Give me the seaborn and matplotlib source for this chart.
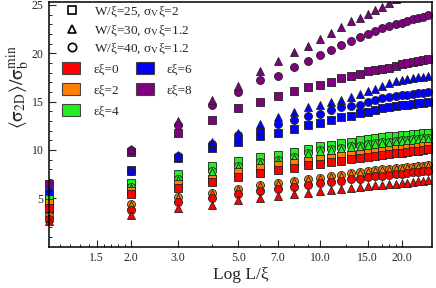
import matplotlib
matplotlib.use("Agg")
import matplotlib.pyplot as plt
import seaborn as sns
import numpy as np
import pandas as pd
from matplotlib.lines import Line2D
from matplotlib.patches import Patch, Rectangle
from matplotlib.ticker import FixedLocator, FixedFormatter, NullFormatter

# system size L/xi
L = list(range(1, 26))

# W/xi=25, sigma_V xi=2 (squares)
sq_e0 = [4.0, 5.4, 6.1, 6.7, 7.2, 7.6, 7.9, 8.15, 8.4, 8.6, 8.75, 8.9, 9.05, 9.2, 9.3, 9.4, 9.5, 9.55, 9.65, 9.7, 9.8, 9.85, 9.9, 10.0, 10.05]
sq_e2 = [4.5, 5.8, 6.45, 7.05, 7.7, 8.1, 8.4, 8.65, 8.9, 9.05, 9.2, 9.35, 9.45, 9.6, 9.7, 9.8, 9.9, 9.95, 10.05, 10.1, 10.2, 10.25, 10.3, 10.4, 10.45]
sq_e4 = [4.9, 6.6, 7.5, 8.3, 8.9, 9.3, 9.5, 9.8, 10.1, 10.4, 10.55, 10.7, 10.85, 11.0, 11.1, 11.2, 11.3, 11.4, 11.45, 11.5, 11.6, 11.65, 11.7, 11.75, 11.8]
sq_e6 = [5.6, 7.9, 9.2, 10.2, 10.8, 11.4, 11.8, 12.2, 12.6, 12.8, 13.1, 13.4, 13.5, 13.8, 13.9, 14.1, 14.3, 14.4, 14.5, 14.6, 14.7, 14.8, 14.85, 14.9, 15.0]
sq_e8 = [6.5, 9.8, 11.8, 13.1, 14.3, 15.0, 15.6, 16.1, 16.5, 16.7, 17.0, 17.4, 17.6, 17.9, 18.2, 18.3, 18.4, 18.5, 18.7, 18.9, 19.0, 19.1, 19.15, 19.3, 19.4]

# W/xi=30, sigma_V xi=1.2 (triangles)
tri_e0 = [2.7, 3.3, 4.05, 4.35, 4.8, 5.0, 5.2, 5.4, 5.6, 5.8, 5.9, 6.0, 6.1, 6.2, 6.25, 6.35, 6.4, 6.45, 6.5, 6.55, 6.6, 6.7, 6.75, 6.8, 6.85]
tri_e2 = [3.0, 4.3, 5.0, 5.5, 5.9, 6.3, 6.5, 6.7, 6.85, 7.0, 7.2, 7.3, 7.55, 7.6, 7.7, 7.85, 7.9, 7.95, 8.0, 8.05, 8.1, 8.15, 8.2, 8.25, 8.3]
tri_e4 = [3.4, 6.1, 6.9, 7.7, 8.2, 8.7, 8.85, 9.2, 9.55, 9.85, 10.0, 10.15, 10.3, 10.35, 10.5, 10.6, 10.7, 10.75, 10.85, 10.9, 10.95, 11.0, 11.05, 11.1, 11.15]
tri_e6 = [4.0, 7.8, 9.5, 10.8, 11.8, 12.7, 13.4, 13.9, 14.4, 14.6, 15.0, 15.2, 15.5, 15.8, 16.1, 16.3, 16.6, 16.9, 17.1, 17.2, 17.3, 17.4, 17.5, 17.55, 17.6]
tri_e8 = [4.8, 10.1, 13.0, 15.2, 16.6, 18.2, 19.2, 20.1, 20.7, 21.5, 22.1, 22.7, 23.3, 23.6, 24.1, 24.5, 24.8, 25.2, 25.6, 25.9, 26.2, 26.5, 26.8, 27.0, 27.3]

# W/xi=40, sigma_V xi=1.2 (circles)
cir_e0 = [2.9, 3.8, 4.6, 5.05, 5.5, 5.8, 5.95, 6.2, 6.35, 6.55, 6.7, 6.8, 6.95, 7.05, 7.2, 7.3, 7.35, 7.45, 7.5, 7.55, 7.65, 7.7, 7.7, 7.8, 7.8]
cir_e2 = [3.2, 4.4, 5.1, 5.6, 6.0, 6.4, 6.6, 6.8, 6.95, 7.1, 7.3, 7.4, 7.65, 7.7, 7.8, 7.95, 8.0, 8.05, 8.1, 8.15, 8.2, 8.25, 8.3, 8.35, 8.4]
cir_e4 = [3.6, 6.2, 7.0, 7.8, 8.3, 8.8, 9.0, 9.3, 9.65, 9.95, 10.1, 10.25, 10.4, 10.45, 10.6, 10.7, 10.8, 10.85, 10.95, 11.0, 11.05, 11.1, 11.15, 11.2, 11.25]
cir_e6 = [4.3, 7.8, 9.4, 10.6, 11.5, 12.1, 12.7, 13.1, 13.5, 13.7, 14.1, 14.4, 14.5, 14.7, 15.0, 15.2, 15.4, 15.5, 15.6, 15.65, 15.7, 15.8, 15.85, 15.9, 15.95]
cir_e8 = [5.0, 10.0, 12.6, 14.6, 16.0, 17.2, 17.7, 18.6, 19.2, 19.8, 20.3, 20.9, 21.3, 21.7, 22.0, 22.3, 22.6, 22.8, 23.0, 23.1, 23.3, 23.5, 23.6, 23.8, 24.0]

eps_vals = [0, 2, 4, 6, 8]
eps_colors = ["#ff0000", "#ff8000", "#22ee22", "#0000ff", "#800080"]
x_major = [1.5, 2, 3, 5, 7, 10, 15, 20]
x_labels = ["1.5", "2.0", "3.0", "5.0", "7.0", "10.0", "15.0", "20.0"]
x_minor = [1.1, 1.2, 1.3, 1.4, 1.6, 1.7, 1.8, 1.9, 4, 6, 8, 9, 12.5, 17, 18, 19]

squares = [sq_e0, sq_e2, sq_e4, sq_e6, sq_e8]
triangles = [tri_e0, tri_e2, tri_e4, tri_e6, tri_e8]
circles = [cir_e0, cir_e2, cir_e4, cir_e6, cir_e8]

sns.set_theme(style="white")
plt.rcParams["font.family"] = ["Liberation Serif", "DejaVu Serif"]
plt.rcParams["mathtext.fontset"] = "stix"

fig = plt.figure(figsize=(4.36, 2.88), dpi=100)
ax = fig.add_axes([49 / 436, 1 - 246.7 / 288, 383 / 436, 244.7 / 288])

# clip only at top/bottom/right, markers at L=1 sit on the left spine
clip = Rectangle((-0.05, 0), 1.1, 1, transform=ax.transAxes, facecolor="none", edgecolor="none")
ax.add_patch(clip)

for i in reversed(range(5)):
    for vals, mk in [(squares[i], "s"), (circles[i], "o"), (triangles[i], "^")]:
        sns.scatterplot(x=L, y=vals, marker=mk, s=33, color=eps_colors[i],
                        edgecolor="#222222", linewidth=0.6, ax=ax, legend=False)
for coll in ax.collections:
    coll.set_clip_path(clip)

ax.set_xscale("log")
ax.set_xlim(1, 25.9)
ax.set_ylim(0, 25.3)
ax.xaxis.set_major_locator(FixedLocator(x_major))
ax.xaxis.set_major_formatter(FixedFormatter(x_labels))
ax.xaxis.set_minor_locator(FixedLocator(x_minor))
ax.xaxis.set_minor_formatter(NullFormatter())
ax.set_yticks([5, 10, 15, 20, 25])
ax.yaxis.set_minor_locator(FixedLocator([v for v in range(1, 25) if v % 5]))
ax.tick_params(which="major", direction="in", length=5, width=0.8, labelsize=8.5,
               bottom=True, left=True, top=False, right=False, pad=4)
ax.tick_params(which="minor", direction="in", length=2.5, width=0.7,
               bottom=True, left=True, top=False, right=False)
for sp in ax.spines.values():
    sp.set_color("black")
    sp.set_linewidth(1.1)

ax.set_xlabel("Log L/ξ", fontsize=12.5, labelpad=2)
ax.set_ylabel(r"$\langle\mathrm{\sigma_{2D}}\rangle/\mathrm{\sigma_b^{min}}$", fontsize=14)
ax.yaxis.set_label_coords(-0.045, 0.65)

shape_handles = [
    Line2D([], [], linestyle="none", marker=m, markersize=6, markerfacecolor="white",
           markeredgecolor="black", markeredgewidth=1.2)
    for m in ["s", "^", "o"]
]
shape_labels = [r"W/ξ=25, σ$_{\mathrm{V}}$ξ=2", r"W/ξ=30, σ$_{\mathrm{V}}$ξ=1.2", r"W/ξ=40, σ$_{\mathrm{V}}$ξ=1.2"]
leg1 = ax.legend(shape_handles, shape_labels, loc="upper left", bbox_to_anchor=(0.044, 0.99),
                 frameon=False, fontsize=9.5, borderpad=0, borderaxespad=0,
                 handlelength=1.0, handletextpad=1.1, labelspacing=0.25)
ax.add_artist(leg1)

patch_handles = [Patch(facecolor=c, edgecolor="#444444", linewidth=0.8) for c in eps_colors]
patch_labels = [f"εξ={e}" for e in eps_vals]
ax.legend(patch_handles, patch_labels, loc="upper left", bbox_to_anchor=(0.034, 0.755),
          ncol=2, frameon=False, fontsize=9.5, borderpad=0, borderaxespad=0,
          handlelength=1.4, handleheight=1.05, handletextpad=0.95,
          labelspacing=0.55, columnspacing=1.3)

fig.savefig("out.png", dpi=100)
